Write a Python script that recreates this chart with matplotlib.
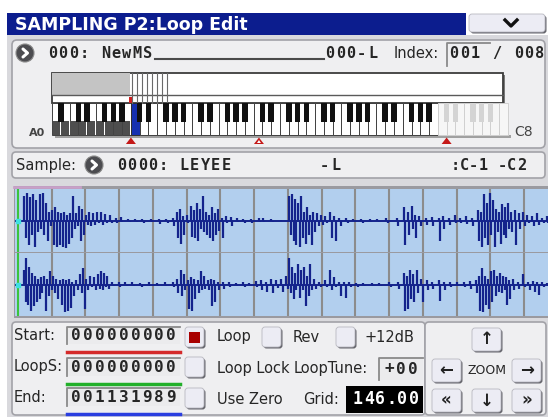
import matplotlib
matplotlib.use('Agg')
import matplotlib.pyplot as plt
from matplotlib.patches import Rectangle, FancyBboxPatch, Circle, Polygon
import numpy as np

W, H = 548, 417

# ---- screen content ----
title = 'SAMPLING P2:Loop Edit'
ms_name = '000: NewMS'
ms_side = '000-L'
index_text = '001 / 008'
key_names = ['A0', 'C8']
sample_name = '0000: LEYEE'
sample_side = '-L'
sample_keys = ':C-1 -C2'
start_value = '000000000'
loops_value = '000000000'
end_value = '001131989'
loop_tune = '+00'
grid_bpm = 146.00
row_labels = ['Start:', 'LoopS:', 'End:']
line_colors = ['#d42a2a', '#22b02a', '#2a3ee0']

# keyboard (white key index, 0 = A0, 51 = C8)
dark_keys = 9          # keys below the sample range
sel_key = 9            # C2, top key of the sample
faded_from = 44        # C7 and up
marker_keys = [9.0, 23.6, 45.0]

# waveform: spike position in beats, peak up / down as fraction of full scale
ch1_pos = [0.18, 0.27, 0.36, 0.45, 0.54, 0.65, 0.74, 0.83, 0.92, 1.01, 1.10, 1.19, 1.28, 1.37, 1.46,
           1.55, 1.64, 1.73, 1.82, 1.90, 2.02, 2.11, 2.23, 2.35, 2.47, 2.59, 2.74, 2.89, 3.04, 3.27,
           3.48, 3.69, 3.93, 4.17, 4.40, 4.58, 4.70, 4.79, 4.88, 5.00, 5.12, 5.21, 5.30, 5.39, 5.48,
           5.57, 5.65, 5.74, 5.83, 5.92, 6.04, 6.16, 6.31, 6.49, 6.67, 6.90, 7.14, 7.26, 7.50, 7.80,
           8.04, 8.13, 8.21, 8.30, 8.39, 8.48, 8.57, 8.66, 8.75, 8.87, 8.99, 9.11, 9.26, 9.38, 9.52,
           9.73, 9.94, 10.18, 10.42, 10.65, 10.92, 11.22, 11.43, 11.55, 11.67, 11.76, 11.90, 12.08,
           12.26, 12.47, 12.59, 12.77, 12.95, 13.10, 13.27, 13.45, 13.63, 13.72, 13.81, 13.90, 13.99,
           14.08, 14.17, 14.26, 14.35, 14.43, 14.52, 14.61, 14.73, 14.85, 14.97, 15.09, 15.24, 15.39,
           15.54, 15.68]
ch1_up = [0.85, 0.95, 0.8, 0.9, 0.7, 0.9, 0.95, 0.6, 0.3, 0.35, 0.45, 0.3, 0.25, 0.3, 0.2,
          0.25, 0.85, 0.25, 0.5, 0.4, 0.2, 0.3, 0.25, 0.3, 0.28, 0.22, 0.2, 0.08, 0.12, 0.05,
          0.06, 0.04, 0.05, 0.06, 0.05, 0.1, 0.3, 0.4, 0.15, 0.2, 0.5, 0.35, 0.6, 0.4, 0.85,
          0.3, 0.2, 0.45, 0.25, 0.4, 0.1, 0.15, 0.12, 0.08, 0.06, 0.05, 0.1, 0.08, 0.04, 0.03,
          0.85, 0.9, 0.75, 0.6, 0.85, 0.3, 0.45, 0.2, 0.3, 0.25, 0.2, 0.15, 0.3, 0.15, 0.1,
          0.08, 0.05, 0.06, 0.04, 0.05, 0.08, 0.1, 0.45, 0.3, 0.5, 0.2, 0.15, 0.1,
          0.12, 0.1, 0.15, 0.1, 0.2, 0.1, 0.15, 0.1, 0.35, 0.3, 0.9, 0.6, 0.95,
          0.7, 0.4, 0.3, 0.55, 0.45, 0.6, 0.3, 0.35, 0.25, 0.3, 0.2, 0.15, 0.25,
          0.1, 0.15]
ch1_dn = [0.6, 0.85, 0.5, 0.9, 0.4, 0.3, 0.5, 0.7, 0.2, 0.85, 0.9, 0.85, 0.9, 0.95, 0.8,
          0.6, 0.3, 0.2, 0.7, 0.5, 0.15, 0.2, 0.15, 0.1, 0.15, 0.1, 0.1, 0.08, 0.05, 0.05,
          0.06, 0.1, 0.05, 0.12, 0.1, 0.2, 0.6, 0.8, 0.5, 0.1, 0.55, 0.6, 0.7, 0.3, 0.4,
          0.5, 0.6, 0.7, 0.5, 0.35, 0.6, 0.1, 0.2, 0.05, 0.08, 0.1, 0.05, 0.05, 0.04, 0.03,
          0.5, 0.7, 0.85, 0.9, 0.6, 0.8, 0.5, 0.85, 0.4, 0.2, 0.15, 0.1, 0.6, 0.7, 0.2,
          0.1, 0.05, 0.08, 0.05, 0.05, 0.1, 0.2, 0.85, 0.5, 0.3, 0.6, 0.2, 0.15,
          0.2, 0.7, 0.3, 0.15, 0.1, 0.1, 0.12, 0.2, 0.7, 0.9, 0.6, 0.85, 0.5,
          0.9, 0.4, 0.8, 0.5, 0.6, 0.3, 0.4, 0.85, 0.3, 0.2, 0.1, 0.2, 0.15,
          0.1, 0.1]
ch2_pos = [0.18, 0.24, 0.33, 0.42, 0.51, 0.60, 0.68, 0.77, 0.86, 0.95, 1.04, 1.13, 1.25, 1.34, 1.43,
           1.52, 1.61, 1.73, 1.85, 1.93, 2.02, 2.14, 2.26, 2.38, 2.47, 2.56, 2.65, 2.80, 2.98, 3.18,
           3.39, 3.63, 3.87, 4.11, 4.35, 4.58, 4.70, 4.82, 4.91, 5.03, 5.12, 5.21, 5.33, 5.42, 5.51,
           5.63, 5.71, 5.80, 5.92, 6.07, 6.25, 6.46, 6.67, 6.85, 7.05, 7.20, 7.35, 7.50, 7.65, 7.80,
           7.95, 8.04, 8.13, 8.21, 8.30, 8.39, 8.48, 8.57, 8.66, 8.78, 8.93, 9.11, 9.26, 9.38, 9.52,
           9.67, 9.82, 10.03, 10.24, 10.48, 10.71, 11.01, 11.25, 11.43, 11.52, 11.61, 11.70, 11.82,
           11.96, 12.11, 12.26, 12.47, 12.62, 12.80, 13.01, 13.21, 13.39, 13.57, 13.66, 13.75, 13.84,
           13.93, 14.02, 14.11, 14.20, 14.29, 14.38, 14.46, 14.55, 14.67, 14.82, 14.97, 15.12, 15.27,
           15.39, 15.54, 15.68]
ch2_up = [0.5, 0.9, 0.6, 0.4, 0.3, 0.2, 0.25, 0.3, 0.2, 0.45, 0.3, 0.2, 0.15, 0.2, 0.15,
          0.2, 0.1, 0.15, 0.35, 0.55, 0.2, 0.3, 0.25, 0.35, 0.45, 0.4, 0.3, 0.1, 0.1, 0.08,
          0.1, 0.05, 0.08, 0.05, 0.08, 0.1, 0.2, 0.5, 0.35, 0.15, 0.25, 0.2, 0.15, 0.45, 0.3,
          0.15, 0.2, 0.15, 0.1, 0.1, 0.08, 0.05, 0.1, 0.06, 0.12, 0.15, 0.1, 0.2, 0.15, 0.2,
          0.3, 0.9, 0.6, 0.4, 0.7, 0.5, 0.6, 0.3, 0.7, 0.2, 0.1, 0.15, 0.5, 0.25, 0.1,
          0.1, 0.08, 0.05, 0.06, 0.05, 0.05, 0.08, 0.1, 0.4, 0.3, 0.5, 0.35, 0.5,
          0.2, 0.15, 0.1, 0.15, 0.1, 0.08, 0.1, 0.08, 0.12, 0.15, 0.3, 0.55, 0.3,
          0.2, 0.45, 0.5, 0.3, 0.4, 0.3, 0.25, 0.15, 0.2, 0.1, 0.35, 0.1, 0.12,
          0.08, 0.1, 0.05]
ch2_dn = [0.6, 0.7, 0.9, 0.75, 0.6, 0.5, 0.3, 0.9, 0.4, 0.2, 0.3, 0.5, 0.7, 0.95, 0.9,
          0.8, 0.4, 0.2, 0.3, 0.85, 0.2, 0.1, 0.2, 0.15, 0.2, 0.1, 0.15, 0.05, 0.1, 0.05,
          0.05, 0.08, 0.05, 0.05, 0.06, 0.1, 0.3, 0.4, 0.2, 0.85, 0.9, 0.5, 0.3, 0.2, 0.15,
          0.2, 0.75, 0.6, 0.2, 0.15, 0.1, 0.05, 0.08, 0.04, 0.1, 0.2, 0.25, 0.3, 0.12, 0.25,
          0.15, 0.3, 0.5, 0.2, 0.45, 0.2, 0.75, 0.4, 0.2, 0.15, 0.1, 0.1, 0.2, 0.1, 0.4,
          0.45, 0.1, 0.08, 0.05, 0.05, 0.05, 0.1, 0.15, 0.9, 0.85, 0.5, 0.6, 0.3,
          0.6, 0.2, 0.15, 0.55, 0.2, 0.1, 0.05, 0.1, 0.15, 0.3, 0.9, 0.95, 0.7,
          0.85, 0.6, 0.4, 0.25, 0.3, 0.2, 0.7, 0.5, 0.2, 0.15, 0.1, 0.2, 0.25,
          0.35, 0.1, 0.05]
view_beats = 15.8

# ---- colours ----
BODY = '#d9d9dd'
PANEL = '#efeff1'
EDGE = '#a2a2a8'
TXT = '#262626'
NAVY = '#14238c'
WAVE_BG = '#b2cfee'

fig = plt.figure(figsize=(W / 100, H / 100), dpi=100, facecolor='white')
ax = fig.add_axes([0, 0, 1, 1])
ax.set_xlim(0, W)
ax.set_ylim(H, 0)
ax.axis('off')


def px_rect(x0, y0, x1, y1):
    return [x0 / W, 1 - y1 / H, (x1 - x0) / W, (y1 - y0) / H]


def rbox(x0, y0, x1, y1, fc, ec='none', lw=1, r=3, z=1):
    ax.add_patch(FancyBboxPatch((x0, y0), x1 - x0, y1 - y0,
                                boxstyle=f'round,pad=0,rounding_size={r}',
                                fc=fc, ec=ec, lw=lw, zorder=z))


def raised(x0, y0, x1, y1, face='#ececf4'):
    rbox(x0 + 1.5, y0 + 1.5, x1 + 1.5, y1 + 1.5, '#65656c', r=3, z=3)
    rbox(x0, y0, x1, y1, face, ec='#b8b8c0', lw=0.6, r=3, z=4)


def sunken(x0, y0, x1, y1, fc='#ebebed'):
    ax.add_patch(Rectangle((x0, y0), x1 - x0, y1 - y0, fc=fc, ec='none', zorder=3))
    ax.plot([x0, x0, x1], [y1, y0, y0], color='#8a8a8a', lw=1.3, zorder=4)


def mono(x, y, s, pitch, **kw):
    kw.setdefault('fontweight', 'bold')
    for i, ch in enumerate(s):
        ax.text(x + pitch * (i + 0.5), y, ch, ha='center', va='center',
                family='DejaVu Sans Mono', zorder=6, **kw)


def label(x, y, s, size=10.5, **kw):
    kw.setdefault('color', TXT)
    ax.text(x, y, s, ha='left', va='center', fontsize=size, zorder=6, **kw)


def round_icon(cx, cy, r=9):
    ax.add_patch(Circle((cx, cy), r, fc='#4c4c50', ec='#8a8a8a', lw=0.8, zorder=5))
    ax.plot([cx - 2, cx + 2.5, cx - 2], [cy - 4, cy, cy + 4], color='white', lw=2.2,
            solid_capstyle='round', zorder=6)


# body and title bar
ax.add_patch(Rectangle((7, 35), W - 7, H - 35, fc=BODY, ec='none', zorder=0))
ax.add_patch(Rectangle((7, 13), 459, 22, fc='#0c1d8e', ec='none', zorder=1))
ax.text(15, 24.5, title, color='white', fontsize=12.5, fontweight='bold', ha='left',
        va='center', zorder=6)
raised(469, 14, 545, 32)
ax.plot([505, 511, 517], [20, 26, 20], color='#111111', lw=2.4, zorder=6)

# multisample panel
rbox(12, 40, 545, 148, PANEL, ec=EDGE, lw=1.2, r=5)
round_icon(25, 53)
mono(47, 53, ms_name, 10.6, fontsize=11, color=TXT)
ax.plot([155, 324], [59, 59], color='#4a4a4a', lw=1.5, zorder=5)
mono(324, 53, ms_side, 10.8, fontsize=11, color=TXT)
label(394, 53, 'Index:', size=10.5)
ax.plot([447, 447, 490], [66, 43, 43], color='#8a8a8a', lw=1.3, zorder=4)
mono(448, 53, index_text, 10.8, fontsize=11, color=TXT)

# keyboard
KX0, KX1, KY0, KY1 = 52, 508, 103, 135
kw = (KX1 - KX0) / 52
ax.add_patch(Rectangle((KX0 + 2, 75), 451, 30, fc='#7a7a7a', ec='none', zorder=2))
ax.add_patch(Rectangle((KX0, 73), 451, 30, fc='white', ec='#3c3c3c', lw=1.3, zorder=3))
ax.add_patch(Rectangle((KX0, 73), KX0 + dark_keys * kw - KX0 - 1, 22, fc='#c4c4c4',
                       ec='none', zorder=3))
ax.plot([KX0, KX0 + 451], [95, 95], color='#5a5a5a', lw=1, zorder=4)
for i in range(8):
    xl = KX0 + dark_keys * kw + 1 + i * 5
    ax.plot([xl, xl], [73, 103], color='#6a6a6a', lw=0.8, zorder=4)
ax.add_patch(Rectangle((KX0 + dark_keys * kw - 2, 97), 3, 6, fc='#d02020', ec='none', zorder=5))

ax.add_patch(Rectangle((KX0 + 3, KY1), KX1 - KX0, 3, fc='#a0a0a0', ec='none', zorder=2))
white_notes = 'ABCDEFG'
for i in range(52):
    x = KX0 + i * kw
    if i == sel_key:
        fc, ec = '#1630b0', '#303030'
    elif i >= faded_from:
        fc, ec = '#f6f6f6', '#d0d0d0'
    else:
        fc, ec = 'white', '#404040'
    ax.add_patch(Rectangle((x, KY0), kw, KY1 - KY0, fc=fc, ec=ec, lw=0.7, zorder=3))
    if i < dark_keys:
        ax.add_patch(Rectangle((x + 0.6, 121), kw - 1.2, KY1 - 121 - 0.5, fc='#4e4e4e',
                               ec='none', zorder=3.5))
for i in range(51):
    note = white_notes[i % 7]
    if note in 'BE':
        continue
    x = KX0 + (i + 1) * kw
    fc = '#d4d4d4' if i >= faded_from else '#111111'
    ax.add_patch(Rectangle((x - 2.8, KY0), 5.6, 19, fc=fc, ec='none', zorder=4))
label(29, 133, key_names[0], size=8, color='#444444', fontweight='bold')
label(514, 132, key_names[1], size=10, color='#444444')
for k, m in enumerate(marker_keys):
    x = KX0 + m * kw
    ax.add_patch(Polygon([[x - 5, 144], [x + 5, 144], [x, 137.5]], fc='#c41818', ec='none',
                         zorder=5))
    if k == 1:
        ax.add_patch(Polygon([[x - 2, 143], [x + 2, 143], [x, 140]], fc='white', ec='none',
                             zorder=6))

# sample row
rbox(12, 152, 545, 178, PANEL, ec=EDGE, lw=1.2, r=4)
label(16, 165, 'Sample:')
round_icon(94, 165)
mono(116, 165, sample_name, 10.5, fontsize=11, color=TXT)
mono(319, 165, sample_side, 11, fontsize=11, color=TXT)
mono(450, 165, sample_keys, 9.5, fontsize=11, color=TXT)

# waveform
ax.add_patch(Rectangle((14, 186), W - 14, 132, fc='#9a9aa0', ec='none', zorder=1))
ax.plot([14, 80], [186.5, 186.5], color='#c8a0c8', lw=2, zorder=2)
b0 = -3 / 33.6
for k, (pos, up, dn) in enumerate([(ch1_pos, ch1_up, ch1_dn), (ch2_pos, ch2_up, ch2_dn)]):
    y0 = 189 + k * 64
    wax = fig.add_axes(px_rect(15, y0, W, y0 + 63))
    wax.set_facecolor(WAVE_BG)
    wax.set_xlim(b0, b0 + view_beats)
    wax.set_ylim(-1.08, 1.08)
    pos = np.array(pos)
    wax.vlines(pos, 0, up, color=NAVY, lw=1.6)
    wax.vlines(pos + 0.045, -np.array(dn), 0, color=NAVY, lw=1.6)
    wax.axhline(0, color=NAVY, lw=1.4)
    wax.set_xticks(np.arange(1, 16))
    wax.set_yticks([])
    wax.grid(axis='x', color='#8c8c8c', lw=1.5)
    wax.tick_params(length=0, labelbottom=False)
    wax.set_axisbelow(True)
    for s in wax.spines.values():
        s.set_visible(False)
    wax.axvline(0, color='#3cc43c', lw=1.5)
    wax.plot([0], [0], marker='s', ms=2.5, color='#40e0e0')

# lower parameter panel
rbox(12, 322, 425, 415, PANEL, ec=EDGE, lw=1.2, r=4)
rbox(425, 322, 546, 415, PANEL, ec=EDGE, lw=1.2, r=4)
row_y = [335, 367, 397]
values = [start_value, loops_value, end_value]
boxes = [(327, 344), (358, 376), (388, 406)]
for lab, val, (by0, by1), yc, col in zip(row_labels, values, boxes, row_y, line_colors):
    label(14, yc, lab)
    sunken(67, by0, 180, by1)
    mono(70, (by0 + by1) / 2, val, 11.9, fontsize=11.5, color=TXT)
    ax.plot([67, 180], [by1 + 8, by1 + 8], color=col, lw=2.5, zorder=4)

checks = [(185, 327, True), (262, 327, False), (336, 327, False), (185, 357, False),
          (185, 388, False)]
for x, y, on in checks:
    raised(x, y, x + 19, y + 20)
    if on:
        ax.add_patch(Rectangle((x + 4, y + 4.5), 11, 11, fc='#a80000', ec='none', zorder=5))
label(217, 337, 'Loop')
label(293, 337, 'Rev')
label(364, 337, '+12dB')
label(217, 368, 'Loop Lock')
label(294, 368, 'LoopTune:')
sunken(379, 358, 423, 380)
mono(383, 369, loop_tune, 12, fontsize=11.5, color=TXT)
label(217, 399, 'Use Zero')
label(303, 399, 'Grid:')
ax.add_patch(Rectangle((346, 386), 77, 27, fc='black', ec='none', zorder=3))
mono(352, 399.5, f'{grid_bpm:.2f}', 11.2, fontsize=12, color='white')

# zoom buttons
btn = [((472, 328), '↑'), ((432, 359), '←'), ((512, 359), '→'),
       ((432, 389), '«'), ((472, 389), '↓'), ((512, 389), '»')]
for (x, y), s in btn:
    raised(x, y, x + 29, y + 23)
    ax.text(x + 14.5, y + 11.5, s, ha='center', va='center', fontsize=12, fontweight='bold',
            color='#222222', zorder=6)
ax.text(487, 371, 'ZOOM', ha='center', va='center', fontsize=9, color=TXT, zorder=6)

fig.savefig('out.png', dpi=100, facecolor='white')
